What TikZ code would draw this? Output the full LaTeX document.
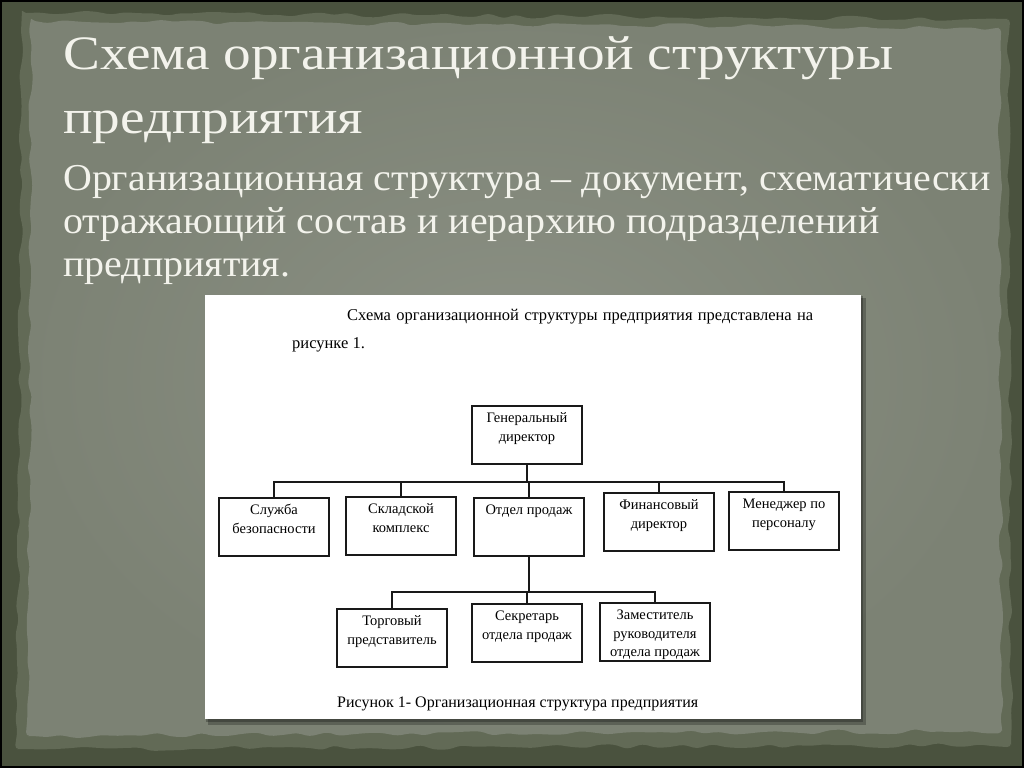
\documentclass[tikz,border=0pt]{standalone}
\usepackage{fontspec}
\setmainfont{Liberation Serif}
\newfontfamily\headfont[FakeStretch=1.15]{Liberation Serif}
\newfontfamily\leadfont[FakeStretch=1.05]{Liberation Serif}
\usetikzlibrary{positioning}
\usetikzlibrary{calc}
\usetikzlibrary{decorations.pathmorphing}
\definecolor{slatedark}{RGB}{74,82,62}
\definecolor{slaterim}{RGB}{98,106,86}
\definecolor{slatepaper}{RGB}{124,130,116}
\definecolor{slatelight}{RGB}{140,145,133}
\definecolor{chalk}{RGB}{243,243,236}
\tikzset{unit/.style={draw=black!90,line width=1.5pt,inner sep=0pt,minimum width=110pt,minimum height=58pt,anchor=north}}
\tikzset{link/.style={draw=black!90,line width=1.5pt}}
\tikzset{slide/.style={text=chalk,anchor=base west,inner sep=0pt}}
\tikzset{torn/.style={decorate,decoration={random steps,segment length=14pt,amplitude=2.5pt},rounded corners=4pt}}
\newcommand{\unittext}[1]{\parbox[t][52pt][t]{108pt}{\centering\fontsize{14.5}{18.5}\selectfont\rule{0pt}{14pt}#1}}

\begin{document}
\begin{tikzpicture}[x=1pt,y=-1pt]
\pgfmathsetseed{7}
\useasboundingbox (0,0) rectangle (1024,768);
% background and torn paper
\fill[black] (0,0) rectangle (1024,768);
\fill[slatedark] (2,2) rectangle (1022,766);
\fill[slaterim,torn] (22,13) -- (1008,19) -- (1011,745) -- (17,749) -- cycle;
\shade[inner color=slatelight,outer color=slatepaper,torn] (31,21) -- (999,28) -- (1002,731) -- (28,736) -- cycle;

% heading
\node[slide,font=\headfont\fontsize{48}{48}\selectfont] (title1) at (63,70) {Схема организационной структуры};
\node[slide,font=\headfont\fontsize{48}{48}\selectfont] (title2) at (63,133) {предприятия};
\node[slide,font=\leadfont\fontsize{38}{38}\selectfont] (lead1) at (63,190) {Организационная структура – документ, схематически};
\node[slide,font=\leadfont\fontsize{38}{38}\selectfont] (lead2) at (63,233) {отражающий состав и иерархию подразделений};
\node[slide,font=\leadfont\fontsize{38}{38}\selectfont] (lead3) at (63,276) {предприятия.};

% inserted page
\fill[black,opacity=0.25] (208,298) rectangle (866,725);
\fill[black,opacity=0.25] (206,296) rectangle (863,722);
\fill[white] (205,295) rectangle (861,719);

\node[anchor=base west,inner sep=0pt,font=\fontsize{16.5}{20}\selectfont] (para1) at (347,320)
  {\makebox[466pt][s]{Схема организационной структуры предприятия представлена на}};
\node[anchor=base west,inner sep=0pt,font=\fontsize{16.5}{20}\selectfont] (para2) at (292,348) {рисунке 1.};

\node[unit] (gendir) at (527,405) {\unittext{Генеральный\\директор}};
\node[unit] (security) at (274,497) {\unittext{Служба\\безопасности}};
\node[unit] (warehouse) at (401,496) {\unittext{Складской\\комплекс}};
\node[unit] (sales) at (529,497) {\unittext{Отдел продаж}};
\node[unit] (findir) at (659,492) {\unittext{Финансовый\\директор}};
\node[unit] (hrman) at (784,491) {\unittext{Менеджер по\\персоналу}};
\node[unit] (agent) at (392,608) {\unittext{Торговый\\представитель}};
\node[unit] (secretary) at (527,603) {\unittext{Секретарь\\отдела продаж}};
\node[unit] (deputy) at (655,602) {\unittext{Заместитель\\руководителя\\отдела продаж}};

\coordinate (busA) at (527,482);
\coordinate (busB) at (527,592);
\draw[link] (gendir.south) -- (busA);
\draw[link] (security.north) |- (busA) -| (hrman.north);
\draw[link] (warehouse.north) -- (warehouse.north |- busA);
\draw[link] (sales.north) -- (sales.north |- busA);
\draw[link] (findir.north) -- (findir.north |- busA);
\draw[link] (sales.south) -- (sales.south |- busB);
\draw[link] (agent.north) |- (busB) -| (deputy.north);
\draw[link] (secretary.north) -- (secretary.north |- busB);

\node[anchor=base west,inner sep=0pt,font=\fontsize{16}{20}\selectfont] (caption) at (337,707)
  {Рисунок 1- Организационная структура предприятия};
\end{tikzpicture}
\end{document}
